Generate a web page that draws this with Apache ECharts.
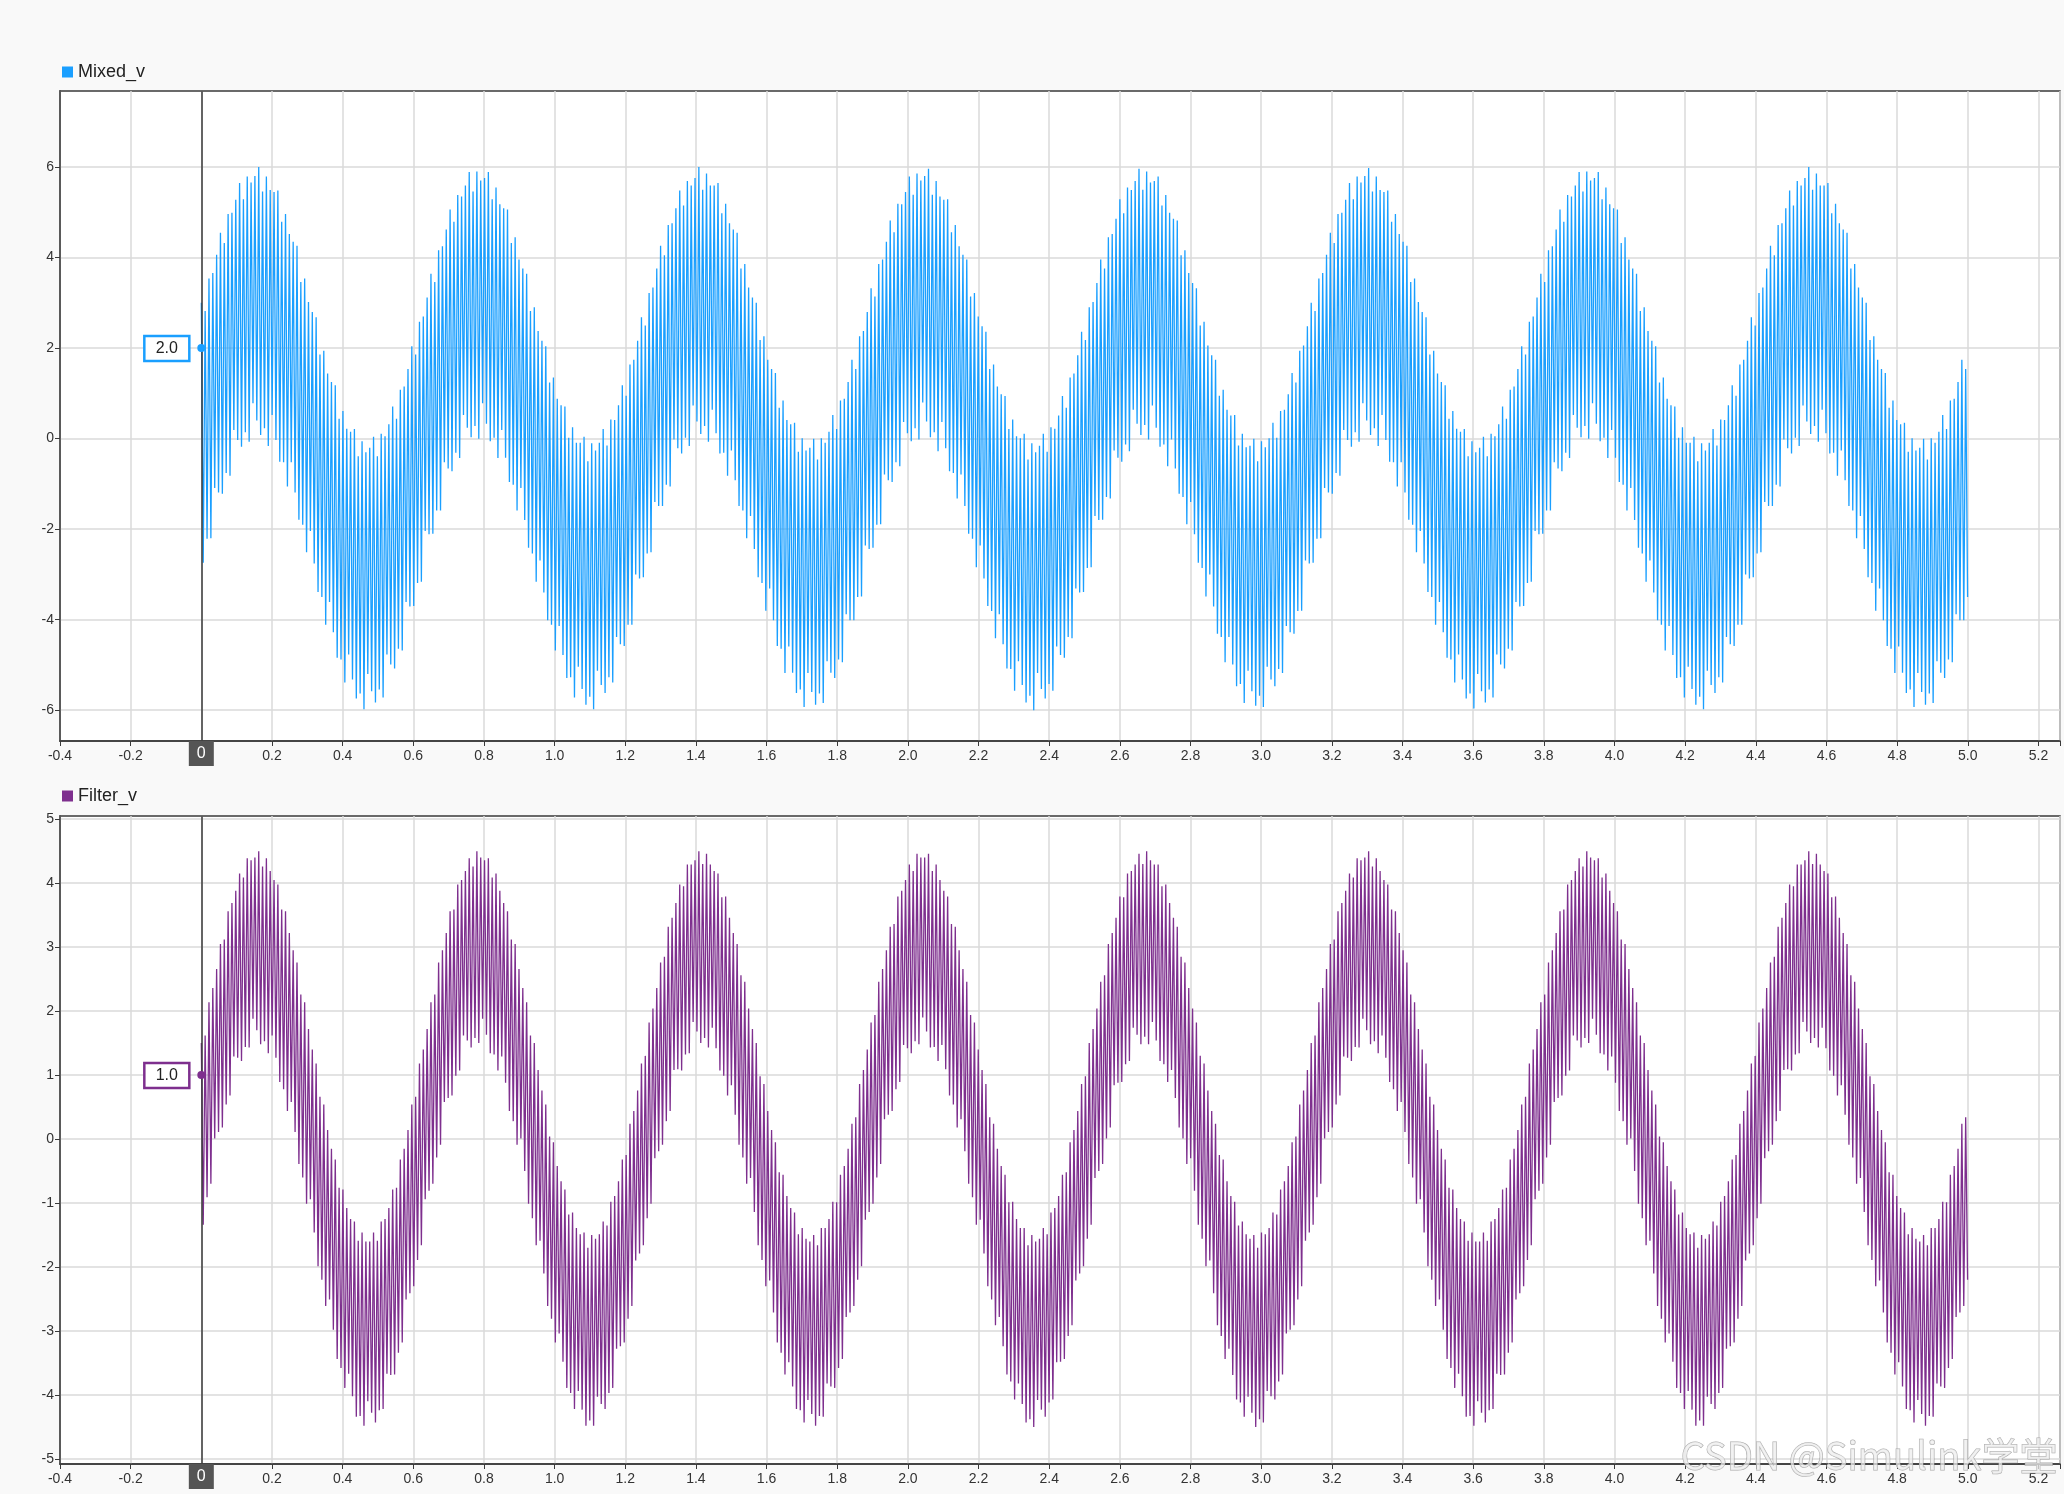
<!DOCTYPE html>
<html>
<head>
<meta charset="utf-8">
<script src="https://cdn.jsdelivr.net/npm/echarts@6/dist/echarts.min.js"></script>
<style>
html,body{margin:0;padding:0;background:#f9f9f9;}
#c{width:2064px;height:1494px;}
</style>
</head>
<body>
<div id="c"></div>
<script>
// ---------------- data ----------------
const sampleStep = 0.0054165;          // seconds between logged samples
const seriesNames = ['Mixed_v', 'Filter_v'];
const cursorTime = 0;
const cursorMixed = 2.0;
const cursorFilter = 1.0;

const mixedV = [
3.00,-2.74,2.82,-2.21,3.54,-2.20,3.66,-1.09,4.06,-1.19,4.55,-1.22,4.32,-0.76,4.96,-0.82,4.99,0.19,5.28,-0.03,
5.65,-0.18,5.29,0.14,5.79,-0.07,5.66,0.78,5.80,0.40,6.00,0.08,5.46,0.23,5.79,-0.16,5.49,0.52,5.45,-0.03,
5.48,-0.51,4.79,-0.52,4.96,-1.06,4.52,-0.52,4.35,-1.19,4.26,-1.79,3.46,-1.90,3.54,-2.51,3.02,-2.04,2.80,-2.76,
2.68,-3.39,1.86,-3.50,1.94,-4.11,1.44,-3.61,1.25,-4.28,1.18,-4.84,0.44,-4.88,0.61,-5.39,0.22,-4.77,0.15,-5.32,
0.21,-5.74,-0.39,-5.63,-0.06,-5.98,-0.30,-5.20,-0.20,-5.58,0.04,-5.83,-0.39,-5.54,0.11,-5.72,0.05,-4.77,0.32,-4.99,
0.71,-5.08,0.44,-4.64,1.08,-4.68,1.15,-3.61,1.54,-3.71,2.04,-3.70,1.86,-3.19,2.58,-3.16,
2.70,-2.04,3.12,-2.11,3.64,-2.10,3.46,-1.59,4.16,-1.59,4.25,-0.52,4.62,-0.66,5.06,-0.72,4.79,-0.31,5.38,-0.43,
5.35,0.52,5.59,0.24,5.89,0.03,5.46,0.28,5.90,0.00,5.70,0.78,5.76,0.33,5.89,-0.06,5.29,0.02,5.55,-0.43,
5.18,0.19,5.09,-0.42,5.06,-0.96,4.32,-1.02,4.45,-1.59,3.96,-1.09,3.76,-1.80,3.64,-2.41,2.82,-2.54,2.90,-3.16,
2.38,-2.69,2.16,-3.40,2.04,-4.01,1.24,-4.11,1.35,-4.68,0.88,-4.14,0.74,-4.78,0.71,-5.29,0.02,-5.27,0.25,-5.72,
-0.09,-5.04,-0.09,-5.53,0.04,-5.88,-0.50,-5.70,-0.10,-5.98,-0.26,-5.13,-0.09,-5.44,0.21,-5.62,-0.15,-5.27,0.42,-5.39,
0.41,-4.38,0.74,-4.54,1.18,-4.58,0.95,-4.11,1.64,-4.11,1.74,-3.00,2.16,-3.09,2.68,-3.06,
2.50,-2.54,3.22,-2.51,3.34,-1.40,3.76,-1.49,4.26,-1.49,4.05,-1.02,4.72,-1.06,4.76,-0.02,5.09,-0.21,5.48,-0.33,
5.15,0.02,5.69,-0.16,5.59,0.73,5.76,0.38,6.00,0.10,5.50,0.28,5.86,-0.07,5.59,0.64,5.59,0.12,5.65,-0.33,
4.98,-0.31,5.19,-0.82,4.76,-0.26,4.62,-0.92,4.55,-1.49,3.76,-1.59,3.86,-2.20,3.34,-1.71,3.12,-2.44,3.00,-3.06,
2.18,-3.19,2.26,-3.80,1.74,-3.31,1.54,-4.01,1.45,-4.58,0.68,-4.64,0.84,-5.18,0.41,-4.59,0.32,-5.17,0.35,-5.62,
-0.29,-5.54,0.01,-5.93,-0.26,-5.18,-0.20,-5.60,0.00,-5.88,-0.46,-5.63,0.01,-5.84,-0.09,-4.92,0.15,-5.17,0.52,-5.29,
0.21,-4.88,0.84,-4.94,0.88,-3.88,1.25,-4.01,1.74,-4.01,1.54,-3.50,2.26,-3.49,2.38,-2.36,
2.80,-2.44,3.32,-2.41,3.14,-1.90,3.86,-1.89,3.96,-0.79,4.35,-0.92,4.82,-0.96,4.56,-0.52,5.19,-0.61,5.18,0.37,
5.45,0.12,5.79,-0.06,5.39,0.23,5.86,-0.02,5.70,0.80,5.80,0.38,5.96,0.03,5.39,0.14,5.69,-0.28,5.35,0.37,
5.28,-0.21,5.29,-0.72,4.56,-0.76,4.72,-1.32,4.25,-0.79,4.06,-1.49,3.96,-2.10,3.14,-2.21,3.22,-2.84,2.70,-2.36,
2.48,-3.09,2.36,-3.70,1.54,-3.81,1.64,-4.41,1.15,-3.88,0.98,-4.54,0.94,-5.08,0.21,-5.09,0.42,-5.57,0.05,-4.92,
0.01,-5.44,0.11,-5.83,-0.46,-5.68,-0.10,-6.00,-0.30,-5.18,-0.16,-5.53,0.11,-5.74,-0.29,-5.42,0.25,-5.57,0.22,-4.59,
0.51,-4.78,0.94,-4.84,0.68,-4.38,1.35,-4.41,1.44,-3.31,1.84,-3.40,2.36,-3.39,2.18,-2.86,
2.90,-2.84,3.02,-1.71,3.44,-1.80,3.96,-1.79,3.76,-1.29,4.45,-1.32,4.52,-0.26,4.86,-0.42,5.29,-0.51,4.98,-0.13,
5.55,-0.28,5.49,0.64,5.69,0.33,5.96,0.08,5.50,0.30,5.90,-0.02,5.66,0.73,5.69,0.24,5.79,-0.18,5.15,-0.13,
5.38,-0.61,4.99,-0.02,4.86,-0.66,4.82,-1.22,4.05,-1.29,4.16,-1.89,3.66,-1.40,3.44,-2.11,3.32,-2.74,2.50,-2.86,
2.58,-3.49,2.06,-3.00,1.84,-3.71,1.74,-4.31,0.95,-4.38,1.08,-4.94,0.64,-4.38,0.51,-4.99,0.52,-5.47,-0.15,-5.42,
0.11,-5.84,-0.19,-5.13,-0.16,-5.58,0.00,-5.90,-0.50,-5.68,-0.06,-5.93,-0.19,-5.04,0.01,-5.32,0.35,-5.47,0.02,-5.09,
0.61,-5.18,0.64,-4.14,0.98,-4.28,1.45,-4.31,1.24,-3.81,1.94,-3.80,2.06,-2.69,2.48,-2.76,
3.00,-2.74,2.82,-2.21,3.54,-2.20,3.66,-1.09,4.06,-1.19,4.55,-1.22,4.32,-0.76,4.96,-0.82,4.99,0.19,5.28,-0.03,
5.65,-0.18,5.29,0.14,5.79,-0.07,5.66,0.78,5.80,0.40,5.98,0.08,5.46,0.23,5.79,-0.16,5.49,0.52,5.45,-0.03,
5.48,-0.51,4.79,-0.52,4.96,-1.06,4.52,-0.52,4.35,-1.19,4.26,-1.79,3.46,-1.90,3.54,-2.51,3.02,-2.04,2.80,-2.76,
2.68,-3.39,1.86,-3.50,1.94,-4.11,1.44,-3.61,1.25,-4.28,1.18,-4.84,0.44,-4.88,0.61,-5.39,0.22,-4.77,0.15,-5.32,
0.21,-5.74,-0.39,-5.63,-0.06,-5.96,-0.30,-5.20,-0.20,-5.58,0.04,-5.83,-0.39,-5.54,0.11,-5.72,0.05,-4.77,0.32,-4.99,
0.71,-5.08,0.44,-4.64,1.08,-4.68,1.15,-3.61,1.54,-3.71,2.04,-3.70,1.86,-3.19,2.58,-3.16,
2.70,-2.04,3.12,-2.11,3.64,-2.10,3.46,-1.59,4.16,-1.59,4.25,-0.52,4.62,-0.66,5.06,-0.72,4.79,-0.31,5.38,-0.43,
5.35,0.52,5.59,0.24,5.89,0.03,5.46,0.28,5.90,0.00,5.70,0.78,5.76,0.33,5.89,-0.06,5.29,0.02,5.55,-0.43,
5.18,0.19,5.09,-0.42,5.06,-0.96,4.32,-1.02,4.45,-1.59,3.96,-1.09,3.76,-1.80,3.64,-2.41,2.82,-2.54,2.90,-3.16,
2.38,-2.69,2.16,-3.40,2.04,-4.01,1.24,-4.11,1.35,-4.68,0.88,-4.14,0.74,-4.78,0.71,-5.29,0.02,-5.27,0.25,-5.72,
-0.09,-5.04,-0.09,-5.53,0.04,-5.88,-0.50,-5.70,-0.10,-5.98,-0.26,-5.13,-0.09,-5.44,0.21,-5.62,-0.15,-5.27,0.42,-5.39,
0.41,-4.38,0.74,-4.54,1.18,-4.58,0.95,-4.11,1.64,-4.11,1.74,-3.00,2.16,-3.09,2.68,-3.06,
2.50,-2.54,3.22,-2.51,3.34,-1.40,3.76,-1.49,4.26,-1.49,4.05,-1.02,4.72,-1.06,4.76,-0.02,5.09,-0.21,5.48,-0.33,
5.15,0.02,5.69,-0.16,5.59,0.73,5.76,0.38,6.00,0.10,5.50,0.28,5.86,-0.07,5.59,0.64,5.59,0.12,5.65,-0.33,
4.98,-0.31,5.19,-0.82,4.76,-0.26,4.62,-0.92,4.55,-1.49,3.76,-1.59,3.86,-2.20,3.34,-1.71,3.12,-2.44,3.00,-3.06,
2.18,-3.19,2.26,-3.80,1.74,-3.31,1.54,-4.01,1.45,-4.58,0.68,-4.64,0.84,-5.18,0.41,-4.59,0.32,-5.17,0.35,-5.62,
-0.29,-5.54,0.01,-5.93,-0.26,-5.18,-0.20,-5.60,0.00,-5.88,-0.46,-5.63,0.01,-5.84,-0.09,-4.92,0.15,-5.17,0.52,-5.29,
0.21,-4.88,0.84,-4.94,0.88,-3.88,1.25,-4.01,1.74,-4.01,1.54,-3.50
];

const filterV = [
1.50,-1.34,1.62,-0.91,2.14,-0.70,2.36,0.01,2.66,0.11,3.05,0.18,3.12,0.54,3.56,0.68,3.69,1.29,3.88,1.27,
4.15,1.22,4.09,1.44,4.39,1.43,4.36,1.88,4.40,1.70,4.50,1.48,4.26,1.53,4.39,1.34,4.19,1.62,4.05,1.27,
3.98,0.89,3.59,0.78,3.56,0.44,3.22,0.58,2.95,0.11,2.76,-0.39,2.26,-0.60,2.14,-1.01,1.72,-0.94,1.40,-1.46,
1.18,-1.99,0.66,-2.20,0.54,-2.61,0.14,-2.51,-0.15,-2.98,-0.32,-3.44,-0.76,-3.58,-0.79,-3.89,-1.08,-3.67,-1.25,-4.02,
-1.29,-4.34,-1.59,-4.33,-1.46,-4.48,-1.60,-4.10,-1.60,-4.28,-1.46,-4.43,-1.59,-4.24,-1.29,-4.22,-1.25,-3.67,-1.08,-3.69,
-0.79,-3.68,-0.76,-3.34,-0.32,-3.18,-0.15,-2.51,0.14,-2.41,0.54,-2.30,0.66,-1.89,1.18,-1.66,
1.40,-0.94,1.72,-0.81,2.14,-0.70,2.26,-0.29,2.76,-0.09,2.95,0.58,3.22,0.64,3.56,0.68,3.59,0.99,3.98,1.07,
4.05,1.62,4.19,1.54,4.39,1.43,4.26,1.58,4.50,1.50,4.40,1.88,4.36,1.63,4.39,1.34,4.09,1.32,4.15,1.07,
3.88,1.29,3.69,0.88,3.56,0.44,3.12,0.28,3.05,-0.09,2.66,0.01,2.36,-0.50,2.14,-1.01,1.62,-1.24,1.50,-1.66,
1.08,-1.59,0.76,-2.10,0.54,-2.61,0.04,-2.81,-0.05,-3.18,-0.42,-3.04,-0.66,-3.48,-0.79,-3.89,-1.18,-3.97,-1.15,-4.22,
-1.39,-3.94,-1.49,-4.23,-1.46,-4.48,-1.70,-4.40,-1.50,-4.48,-1.56,-4.03,-1.49,-4.14,-1.29,-4.22,-1.35,-3.97,-0.98,-3.89,
-0.89,-3.28,-0.66,-3.24,-0.32,-3.18,-0.25,-2.81,0.24,-2.61,0.44,-1.90,0.76,-1.79,1.18,-1.66,
1.30,-1.24,1.82,-1.01,2.04,-0.30,2.36,-0.19,2.76,-0.09,2.85,0.28,3.32,0.44,3.46,1.08,3.69,1.09,3.98,1.07,
3.95,1.32,4.29,1.34,4.29,1.83,4.36,1.68,4.50,1.50,4.30,1.58,4.46,1.43,4.29,1.74,4.19,1.42,4.15,1.07,
3.78,0.99,3.79,0.68,3.46,0.84,3.22,0.38,3.05,-0.09,2.56,-0.29,2.46,-0.70,2.04,-0.61,1.72,-1.14,1.50,-1.66,
0.98,-1.89,0.86,-2.30,0.44,-2.21,0.14,-2.71,-0.05,-3.18,-0.52,-3.34,-0.56,-3.68,-0.89,-3.49,-1.08,-3.87,-1.15,-4.22,
-1.49,-4.24,-1.39,-4.43,-1.56,-4.08,-1.60,-4.30,-1.50,-4.48,-1.66,-4.33,-1.39,-4.34,-1.39,-3.82,-1.25,-3.87,-0.98,-3.89,
-0.99,-3.58,-0.56,-3.44,-0.42,-2.78,-0.15,-2.71,0.24,-2.61,0.34,-2.20,0.86,-1.99,1.08,-1.26,
1.40,-1.14,1.82,-1.01,1.94,-0.60,2.46,-0.39,2.66,0.31,2.95,0.38,3.32,0.44,3.36,0.78,3.79,0.89,3.88,1.47,
4.05,1.42,4.29,1.34,4.19,1.53,4.46,1.48,4.40,1.90,4.40,1.68,4.46,1.43,4.19,1.44,4.29,1.22,4.05,1.47,
3.88,1.09,3.79,0.68,3.36,0.54,3.32,0.18,2.95,0.31,2.66,-0.19,2.46,-0.70,1.94,-0.91,1.82,-1.34,1.40,-1.26,
1.08,-1.79,0.86,-2.30,0.34,-2.51,0.24,-2.91,-0.15,-2.78,-0.42,-3.24,-0.56,-3.68,-0.99,-3.79,-0.98,-4.07,-1.25,-3.82,
-1.39,-4.14,-1.39,-4.43,-1.66,-4.38,-1.50,-4.50,-1.60,-4.08,-1.56,-4.23,-1.39,-4.34,-1.49,-4.12,-1.15,-4.07,-1.08,-3.49,
-0.89,-3.48,-0.56,-3.44,-0.52,-3.08,-0.05,-2.91,0.14,-2.21,0.44,-2.10,0.86,-1.99,0.98,-1.56,
1.50,-1.34,1.72,-0.61,2.04,-0.50,2.46,-0.39,2.56,0.01,3.05,0.18,3.22,0.84,3.46,0.88,3.79,0.89,3.78,1.17,
4.15,1.22,4.19,1.74,4.29,1.63,4.46,1.48,4.30,1.60,4.50,1.48,4.36,1.83,4.29,1.54,4.29,1.22,3.95,1.17,
3.98,0.89,3.69,1.08,3.46,0.64,3.32,0.18,2.85,0.01,2.76,-0.39,2.36,-0.30,2.04,-0.81,1.82,-1.34,1.30,-1.56,
1.18,-1.99,0.76,-1.90,0.44,-2.41,0.24,-2.91,-0.25,-3.08,-0.32,-3.44,-0.66,-3.28,-0.89,-3.69,-0.98,-4.07,-1.35,-4.12,
-1.29,-4.34,-1.49,-4.03,-1.56,-4.28,-1.50,-4.50,-1.70,-4.38,-1.46,-4.43,-1.49,-3.94,-1.39,-4.02,-1.15,-4.07,-1.18,-3.79,
-0.79,-3.68,-0.66,-3.04,-0.42,-2.98,-0.05,-2.91,0.04,-2.51,0.54,-2.30,0.76,-1.59,1.08,-1.46,
1.50,-1.34,1.62,-0.91,2.14,-0.70,2.36,0.01,2.66,0.11,3.05,0.18,3.12,0.54,3.56,0.68,3.69,1.29,3.88,1.27,
4.15,1.22,4.09,1.44,4.39,1.43,4.36,1.88,4.40,1.70,4.50,1.48,4.26,1.53,4.39,1.34,4.19,1.62,4.05,1.27,
3.98,0.89,3.59,0.78,3.56,0.44,3.22,0.58,2.95,0.11,2.76,-0.39,2.26,-0.60,2.14,-1.01,1.72,-0.94,1.40,-1.46,
1.18,-1.99,0.66,-2.20,0.54,-2.61,0.14,-2.51,-0.15,-2.98,-0.32,-3.44,-0.76,-3.58,-0.79,-3.89,-1.08,-3.67,-1.25,-4.02,
-1.29,-4.34,-1.59,-4.33,-1.46,-4.48,-1.60,-4.10,-1.60,-4.28,-1.46,-4.43,-1.59,-4.24,-1.29,-4.22,-1.25,-3.67,-1.08,-3.69,
-0.79,-3.68,-0.76,-3.34,-0.32,-3.18,-0.15,-2.51,0.14,-2.41,0.54,-2.30,0.66,-1.89,1.18,-1.66,
1.40,-0.94,1.72,-0.81,2.14,-0.70,2.26,-0.29,2.76,-0.09,2.95,0.58,3.22,0.64,3.56,0.68,3.59,0.99,3.98,1.07,
4.05,1.62,4.19,1.54,4.39,1.43,4.26,1.58,4.50,1.50,4.40,1.88,4.36,1.63,4.39,1.34,4.09,1.32,4.15,1.07,
3.88,1.29,3.69,0.88,3.56,0.44,3.12,0.28,3.05,-0.09,2.66,0.01,2.36,-0.50,2.14,-1.01,1.62,-1.24,1.50,-1.66,
1.08,-1.59,0.76,-2.10,0.54,-2.61,0.04,-2.81,-0.05,-3.18,-0.42,-3.04,-0.66,-3.48,-0.79,-3.89,-1.18,-3.97,-1.15,-4.22,
-1.39,-3.94,-1.49,-4.23,-1.46,-4.48,-1.70,-4.40,-1.50,-4.48,-1.56,-4.03,-1.49,-4.14,-1.29,-4.22,-1.35,-3.97,-0.98,-3.89,
-0.89,-3.28,-0.66,-3.24,-0.32,-3.18,-0.25,-2.81,0.24,-2.61,0.44,-1.90,0.76,-1.79,1.18,-1.66,
1.30,-1.24,1.82,-1.01,2.04,-0.30,2.36,-0.19,2.76,-0.09,2.85,0.28,3.32,0.44,3.46,1.08,3.69,1.09,3.98,1.07,
3.95,1.32,4.29,1.34,4.29,1.83,4.36,1.68,4.50,1.50,4.30,1.58,4.46,1.43,4.29,1.74,4.19,1.42,4.15,1.07,
3.78,0.99,3.79,0.68,3.46,0.84,3.22,0.38,3.05,-0.09,2.56,-0.29,2.46,-0.70,2.04,-0.61,1.72,-1.14,1.50,-1.66,
0.98,-1.89,0.86,-2.30,0.44,-2.21,0.14,-2.71,-0.05,-3.18,-0.52,-3.34,-0.56,-3.68,-0.89,-3.49,-1.08,-3.87,-1.15,-4.22,
-1.49,-4.24,-1.39,-4.43,-1.56,-4.08,-1.60,-4.30,-1.50,-4.48,-1.66,-4.33,-1.39,-4.34,-1.39,-3.82,-1.25,-3.87,-0.98,-3.89,
-0.99,-3.58,-0.56,-3.44,-0.42,-2.78,-0.15,-2.71,0.24,-2.61,0.34,-2.20
];

// axis ranges and tick labels
const xRange = [-0.4, 5.261];
const xTickStep = 0.2;
const yRanges = [[-6.68, 7.68], [-5.08, 5.05]];
const ySplits = [7, 10];
const yTickValues = [[-6, -4, -2, 0, 2, 4, 6], [-5, -4, -3, -2, -1, 0, 1, 2, 3, 4, 5]];

// ---------------- styling ----------------
const BLUE = '#1a9fff';
const PURPLE = '#7e2f8e';
const FONT = '"Liberation Sans", Arial, sans-serif';
const AXIS = '#3a3a3a';
const GRIDC = '#dadada';

const chart = echarts.init(document.getElementById('c'), null, {renderer: 'canvas', width: 2064, height: 1494});

function xFmt(v) {
  if (Math.abs(v) < 1e-9) return '';
  const k = v / xTickStep;
  if (Math.abs(k - Math.round(k)) > 1e-6) return '';
  return v.toFixed(1);
}
function yFmt(v) {
  if (Math.abs(v - Math.round(v)) > 1e-6) return '';
  return String(Math.round(v));
}

const gridDefs = [
  {left: 60, right: 4, top: 91, height: 650},
  {left: 60, right: 4, top: 816, height: 648}
];

const option = {
  animation: false,
  backgroundColor: '#f9f9f9',
  grid: gridDefs.map(g => Object.assign({}, g, {
    show: true, backgroundColor: '#ffffff', borderColor: AXIS, borderWidth: 1.5, containLabel: false
  })),
  legend: [
    {data: [seriesNames[0]], left: 62, top: 63, padding: 0, icon: 'rect', itemWidth: 11, itemHeight: 11,
     selectedMode: false, textStyle: {fontSize: 18, color: '#222', fontFamily: FONT}},
    {data: [seriesNames[1]], left: 62, top: 787, padding: 0, icon: 'rect', itemWidth: 11, itemHeight: 11,
     selectedMode: false, textStyle: {fontSize: 18, color: '#222', fontFamily: FONT}}
  ],
  xAxis: [0, 1].map(i => ({
    type: 'value', gridIndex: i, min: xRange[0], max: xRange[1], interval: xTickStep,
    axisLine: {show: true, onZero: false, lineStyle: {color: AXIS, width: 1.5}},
    axisTick: {show: true, length: 5, lineStyle: {color: AXIS, width: 1}},
    axisLabel: {color: '#333', fontSize: 14, fontFamily: FONT, margin: 8, formatter: xFmt,
                showMinLabel: true, showMaxLabel: true, hideOverlap: false},
    splitLine: {show: true, lineStyle: {color: GRIDC, width: 1.5}}
  })),
  yAxis: [0, 1].map(i => ({
    type: 'value', gridIndex: i, min: yRanges[i][0], max: yRanges[i][1], splitNumber: ySplits[i],
    axisLine: {show: true, onZero: false, lineStyle: {color: AXIS, width: 1.5}},
    axisTick: {show: true, length: 5, customValues: yTickValues[i], lineStyle: {color: AXIS, width: 1}},
    axisLabel: {color: '#333', fontSize: 14, fontFamily: FONT, margin: 6, formatter: yFmt},
    splitLine: {show: true, lineStyle: {color: GRIDC, width: 1.5}}
  })),
  series: [
    {
      name: seriesNames[0], type: 'line', xAxisIndex: 0, yAxisIndex: 0,
      data: mixedV.map((v, i) => [i * sampleStep, v]),
      showSymbol: false, symbol: 'none', sampling: null,
      lineStyle: {color: BLUE, width: 1.3}, itemStyle: {color: BLUE},
      markLine: {silent: true, symbol: 'none', animation: false, label: {show: false},
        lineStyle: {color: AXIS, width: 1.5, type: 'solid'}, data: [{xAxis: cursorTime}]}
    },
    {
      name: seriesNames[1], type: 'line', xAxisIndex: 1, yAxisIndex: 1,
      data: filterV.map((v, i) => [i * sampleStep, v]),
      showSymbol: false, symbol: 'none', sampling: null,
      lineStyle: {color: PURPLE, width: 1.3}, itemStyle: {color: PURPLE},
      markLine: {silent: true, symbol: 'none', animation: false, label: {show: false},
        lineStyle: {color: AXIS, width: 1.5, type: 'solid'}, data: [{xAxis: cursorTime}]}
    }
  ]
};
chart.setOption(option);

// cursor readouts positioned through the chart's own scales
const elems = [];
[[0, cursorMixed, BLUE], [1, cursorFilter, PURPLE]].forEach(([g, val, col]) => {
  const p = chart.convertToPixel({gridIndex: g}, [cursorTime, val]);
  const bottom = chart.convertToPixel({gridIndex: g}, [cursorTime, yRanges[g][0]]);
  elems.push({type: 'circle', z: 100, shape: {cx: p[0], cy: p[1], r: 4}, style: {fill: col}});
  elems.push({type: 'rect', z: 100, shape: {x: p[0] - 57, y: p[1] - 12, width: 45, height: 25},
    style: {fill: '#fff', stroke: col, lineWidth: 2.5}});
  elems.push({type: 'text', z: 101, x: p[0] - 34.5, y: p[1] + 0.5,
    style: {text: val.toFixed(1), fill: '#222', font: '16px ' + FONT, align: 'center', verticalAlign: 'middle'}});
  elems.push({type: 'rect', z: 100, shape: {x: bottom[0] - 12.5, y: bottom[1], width: 25, height: 25},
    style: {fill: '#555555'}});
  elems.push({type: 'text', z: 101, x: bottom[0], y: bottom[1] + 12.5,
    style: {text: String(cursorTime), fill: '#fff', font: '16px ' + FONT, align: 'center', verticalAlign: 'middle'}});
});
elems.push({type: 'text', z: 200, right: 6, top: 1436,
  style: {text: 'CSDN @Simulink学堂', fill: 'rgba(238,238,238,0.75)', stroke: 'rgba(150,150,150,0.8)', lineWidth: 1,
          font: '38px "Noto Sans CJK SC", "Liberation Sans", sans-serif'}});
chart.setOption({graphic: {elements: elems}});
</script>
</body>
</html>
